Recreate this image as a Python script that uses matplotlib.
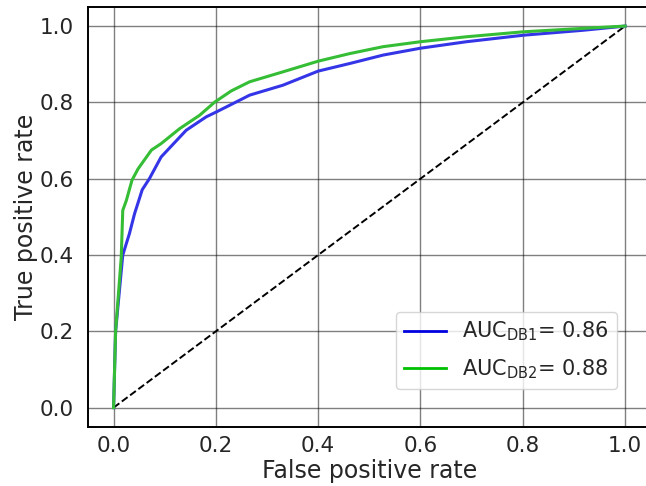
import numpy as np
import matplotlib.pyplot as plt
from matplotlib.lines import Line2D

# ROC points read per model (false positive rate, true positive rate)
fpr_db1 = [0.0, 0.004, 0.018, 0.031, 0.041, 0.056, 0.070, 0.093, 0.142, 0.181,
           0.201, 0.247, 0.266, 0.331, 0.400, 0.462, 0.527, 0.600, 0.690, 0.801,
           0.918, 1.0]
tpr_db1 = [0.0, 0.20, 0.40, 0.456, 0.508, 0.571, 0.600, 0.657, 0.727, 0.762,
           0.775, 0.806, 0.819, 0.845, 0.882, 0.902, 0.924, 0.942, 0.959, 0.976,
           0.989, 1.0]

fpr_db2 = [0.0, 0.004, 0.015, 0.018, 0.025, 0.036, 0.048, 0.074, 0.093, 0.129,
           0.168, 0.198, 0.230, 0.266, 0.331, 0.400, 0.462, 0.527, 0.600, 0.690,
           0.801, 0.918, 1.0]
tpr_db2 = [0.0, 0.20, 0.394, 0.517, 0.543, 0.596, 0.626, 0.675, 0.692, 0.731,
           0.766, 0.801, 0.830, 0.854, 0.880, 0.908, 0.928, 0.946, 0.959, 0.972,
           0.985, 0.994, 1.0]

auc_db1 = 0.86
auc_db2 = 0.88

plt.rcParams['font.family'] = 'DejaVu Sans'
text_col = '#262626'

fig = plt.figure(figsize=(6.46, 4.86), dpi=100)
ax = fig.add_axes([0.1362, 0.122, 0.871, 0.8636])

ax.plot([0, 1], [0, 1], 'k--', lw=1.4)
ax.plot(fpr_db1, tpr_db1, color='#3535e8', lw=2.2)
ax.plot(fpr_db2, tpr_db2, color='#35be35', lw=2.2)

ax.set_xlim(-0.05, 1.05)
ax.set_ylim(-0.05, 1.05)
ax.set_xticks(np.arange(0, 1.01, 0.2))
ax.set_yticks(np.arange(0, 1.01, 0.2))
ax.grid(True, color='black', alpha=0.5, lw=1.0)
ax.set_axisbelow(True)

for s in ax.spines.values():
    s.set_color('black')
    s.set_linewidth(1.4)

ax.tick_params(axis='both', length=0, labelsize=15.5, labelcolor=text_col)
ax.tick_params(axis='x', pad=7)
ax.tick_params(axis='y', pad=10)
ax.set_xlabel('False positive rate', fontsize=17, color=text_col, labelpad=2)
ax.set_ylabel('True positive rate', fontsize=17, color=text_col, labelpad=1)

handles = [Line2D([], [], color='#0000e0', lw=2),
           Line2D([], [], color='#00c000', lw=2)]
labels = [f'AUC$_\\mathregular{{DB1}}$= {auc_db1:.2f}',
          f'AUC$_\\mathregular{{DB2}}$= {auc_db2:.2f}']
leg = ax.legend(handles, labels, loc='lower right', fontsize=15,
                bbox_to_anchor=(0.940, 0.090), borderaxespad=0,
                labelspacing=0.65, handletextpad=0.8, fancybox=True,
                framealpha=0.8, edgecolor='#cccccc')
for t in leg.get_texts():
    t.set_color(text_col)

fig.savefig('out.png', dpi=100)
